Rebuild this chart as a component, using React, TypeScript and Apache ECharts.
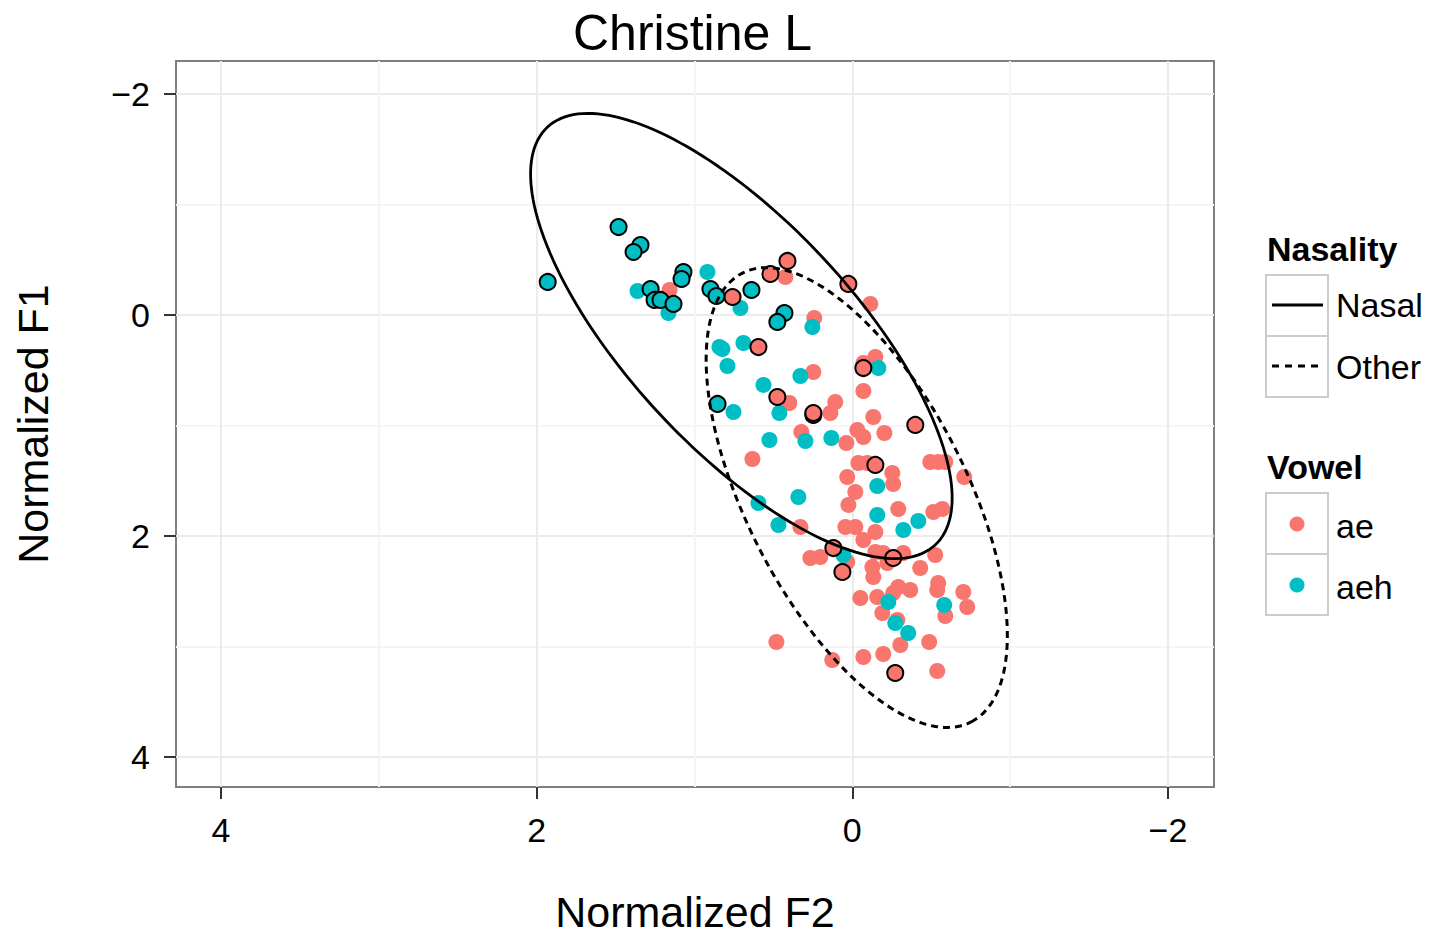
import React, { useEffect, useRef } from "react";
import * as echarts from "echarts";

const FONT = "'Liberation Sans', Arial, Helvetica, sans-serif";
const RED = "#F8766D";
const TEAL = "#00BFC4";

const chartTitle = "Christine L";
const xTitle = "Normalized F2";
const yTitle = "Normalized F1";

const xTicks = [-2, 0, 2, 4];
const yTicks = [-2, 0, 2, 4];
const X_MIN = -2.2915;
const X_MAX = 4.285;
const Y_MIN = -2.2986;
const Y_MAX = 4.2715;

// points: [Normalized F2, Normalized F1]
const aeOther: number[][] = [
  [1.158, -0.226], [0.424, -0.344], [-0.114, -0.1], [0.241, 0.027], [-0.07, 0.434],
  [-0.146, 0.38], [0.247, 0.516], [-0.07, 0.688], [0.399, 0.796], [0.108, 0.787],
  [0.139, 0.887], [-0.133, 0.923], [0.323, 1.059], [0.038, 1.158], [-0.032, 1.041],
  [-0.07, 1.104], [-0.203, 1.068], [0.633, 1.303], [-0.038, 1.339], [-0.095, 1.339],
  [-0.253, 1.43], [0.032, 1.466], [-0.494, 1.33], [-0.544, 1.33], [-0.589, 1.33],
  [-0.709, 1.466], [-0.259, 1.529], [-0.019, 1.602], [0.025, 1.719], [-0.291, 1.756],
  [-0.513, 1.783], [-0.57, 1.756], [0.329, 1.919], [0.044, 1.919], [-0.019, 1.919],
  [-0.146, 1.964], [-0.07, 2.036], [0.266, 2.199], [0.203, 2.19], [0.032, 2.235],
  [-0.146, 2.145], [-0.196, 2.154], [-0.323, 2.154], [-0.525, 2.172], [-0.127, 2.281],
  [-0.133, 2.371], [-0.222, 2.244], [-0.43, 2.29], [-0.291, 2.462], [-0.367, 2.489],
  [-0.259, 2.516], [-0.544, 2.425], [-0.538, 2.489], [-0.703, 2.507], [-0.728, 2.643],
  [-0.051, 2.561], [-0.158, 2.552], [-0.19, 2.697], [-0.589, 2.724], [-0.304, 2.986],
  [-0.487, 2.959], [0.481, 2.959], [0.127, 3.122], [-0.07, 3.095], [-0.196, 3.068],
  [-0.538, 3.222], [-0.285, 2.76],
];

const aehOther: number[][] = [
  [1.361, -0.217], [0.918, -0.389], [1.165, -0.018], [0.709, -0.063], [0.253, 0.109],
  [0.842, 0.29], [0.823, 0.308], [0.69, 0.253], [0.791, 0.462], [-0.165, 0.48],
  [0.563, 0.633], [0.329, 0.552], [0.753, 0.878], [0.462, 0.887], [0.297, 1.14],
  [0.525, 1.131], [0.133, 1.113], [-0.158, 1.548], [0.595, 1.701], [0.342, 1.647],
  [-0.158, 1.81], [-0.418, 1.864], [-0.323, 1.946], [0.468, 1.9], [0.057, 2.172],
  [-0.228, 2.597], [-0.582, 2.624], [-0.272, 2.787], [-0.354, 2.878],
];

const aeNasal: number[][] = [
  [0.759, -0.163], [0.519, -0.371], [0.411, -0.489], [0.025, -0.281], [0.595, 0.29],
  [-0.07, 0.48], [0.475, 0.742], [0.247, 0.905], [0.247, 0.887], [-0.399, 0.995],
  [-0.146, 1.357], [0.12, 2.109], [-0.259, 2.199], [0.063, 2.326], [-0.272, 3.24],
];

const aehNasal: number[][] = [
  [1.481, -0.796], [1.342, -0.633], [1.386, -0.57], [1.93, -0.299], [1.07, -0.389],
  [1.082, -0.326], [1.278, -0.235], [1.253, -0.136], [1.215, -0.136], [1.133, -0.1],
  [0.899, -0.235], [0.861, -0.172], [0.639, -0.226], [0.43, -0.018], [0.475, 0.063],
  [0.854, 0.805],
];

// ellipses: centre, end of first semi-axis, end of second semi-axis (data units)
const ellipseNames = ["Nasal", "Other"];
const ellipseCenters = [[0.703, 0.19], [-0.028, 1.652]];
const ellipseAxisA = [[-0.525, 2.081], [-0.7525, 3.683]];
const ellipseAxisB = [[0.178, -0.505], [-0.649, 1.2]];

const fmt = (v: number) => String(v).replace("-", "\u2212");

export default function App() {
  const ref = useRef<HTMLDivElement>(null);
  useEffect(() => {
    if (!ref.current) return;
    const chart = echarts.init(ref.current, undefined, { renderer: "svg" });

    const axisCommon = (ticks: number[]) => ({
      type: "value" as const,
      inverse: true,
      splitNumber: 3,
      nameLocation: "middle" as const,
      nameTextStyle: { fontSize: 43, lineHeight: 43, color: "#000", fontFamily: FONT },
      axisLine: { show: false, onZero: false },
      axisTick: { show: true, length: 12, lineStyle: { color: "#333", width: 2 }, customValues: ticks },
      axisLabel: {
        customValues: ticks,
        fontSize: 34,
        color: "#000",
        fontFamily: FONT,
        formatter: (v: number) => fmt(v),
      },
      splitLine: { show: true, lineStyle: { color: "#ebebeb", width: 2 } },
      minorTick: { show: false, splitNumber: 2 },
      minorSplitLine: { show: true, lineStyle: { color: "#f5f5f5", width: 2 } },
    });

    const xAxis: any = axisCommon(xTicks);
    xAxis.min = X_MIN;
    xAxis.max = X_MAX;
    xAxis.name = xTitle;
    xAxis.nameGap = 103;
    xAxis.axisLabel.margin = 26;

    const yAxis: any = axisCommon(yTicks);
    yAxis.min = Y_MIN;
    yAxis.max = Y_MAX;
    yAxis.name = yTitle;
    yAxis.nameGap = 122;
    yAxis.axisLabel.margin = 26;

    const scatter = (name: string, data: number[][], color: string, nasal: boolean) => ({
      type: "scatter",
      name,
      data,
      symbol: "circle",
      symbolSize: 16,
      z: nasal ? 4 : 3,
      itemStyle: nasal
        ? { color, borderColor: "#000", borderWidth: 2, opacity: 1 }
        : { color, opacity: 1 },
      emphasis: { disabled: true },
    });

    const legendBox = (x: number, y: number) => ({
      type: "rect",
      shape: { x, y, width: 62, height: 61 },
      style: { fill: "#fff", stroke: "#cccccc", lineWidth: 2 },
    });
    const legendText = (x: number, y: number, text: string, bold = false) => ({
      type: "text",
      x,
      y,
      style: {
        text,
        fontSize: 34,
        fontWeight: bold ? "bold" : "normal",
        fontFamily: FONT,
        fill: "#000",
        textVerticalAlign: "middle",
        verticalAlign: "middle",
      },
    });

    chart.setOption({
      animation: false,
      backgroundColor: "#fff",
      title: {
        text: chartTitle,
        left: 568,
        top: 3,
        textStyle: { fontSize: 50, fontWeight: "normal", color: "#000", fontFamily: FONT },
      },
      grid: {
        left: 176,
        top: 61,
        right: 221,
        bottom: 148,
        show: true,
        borderColor: "#7f7f7f",
        borderWidth: 2,
        backgroundColor: "#fff",
        containLabel: false,
        outerBoundsMode: "none",
      },
      xAxis,
      yAxis,
      series: [
        scatter("ae", aeOther, RED, false),
        scatter("aeh", aehOther, TEAL, false),
        scatter("ae (Nasal)", aeNasal, RED, true),
        scatter("aeh (Nasal)", aehNasal, TEAL, true),
        {
          type: "custom",
          name: "Nasality",
          data: ellipseCenters,
          z: 5,
          silent: true,
          renderItem: (params: any, api: any) => {
            const i = params.dataIndex;
            const c = api.coord(ellipseCenters[i]);
            const a = api.coord(ellipseAxisA[i]);
            const b = api.coord(ellipseAxisB[i]);
            const ax = a[0] - c[0], ay = a[1] - c[1];
            const bx = b[0] - c[0], by = b[1] - c[1];
            const pts: number[][] = [];
            const n = 180;
            for (let k = 0; k <= n; k++) {
              const t = (k / n) * Math.PI * 2;
              pts.push([
                c[0] + ax * Math.cos(t) + bx * Math.sin(t),
                c[1] + ay * Math.cos(t) + by * Math.sin(t),
              ]);
            }
            return {
              type: "polyline",
              name: ellipseNames[i],
              shape: { points: pts },
              style: {
                stroke: "#000",
                lineWidth: i === 1 ? 3 : 2.8,
                fill: null,
                lineDash: i === 1 ? [7, 5] : null,
              },
            };
          },
        },
      ],
      graphic: [
        legendText(1267, 249, "Nasality", true),
        legendBox(1266, 275),
        legendBox(1266, 336),
        { type: "line", shape: { x1: 1272, y1: 305, x2: 1323, y2: 305 }, style: { stroke: "#000", lineWidth: 2.8 } },
        { type: "line", shape: { x1: 1272, y1: 366, x2: 1323, y2: 366 }, style: { stroke: "#000", lineWidth: 3, lineDash: [7, 6] } },
        legendText(1336, 305, "Nasal"),
        legendText(1336, 367, "Other"),
        legendText(1267, 467, "Vowel", true),
        legendBox(1266, 493),
        legendBox(1266, 554),
        { type: "circle", shape: { cx: 1297, cy: 524, r: 7.5 }, style: { fill: RED } },
        { type: "circle", shape: { cx: 1297, cy: 585, r: 7.5 }, style: { fill: TEAL } },
        legendText(1336, 526, "ae"),
        legendText(1336, 587, "aeh"),
      ],
    });

    return () => chart.dispose();
  }, []);

  return (
    <div
      ref={ref}
      style={{ position: "fixed", left: 0, top: 0, width: 1435, height: 935, background: "#fff" }}
    />
  );
}
